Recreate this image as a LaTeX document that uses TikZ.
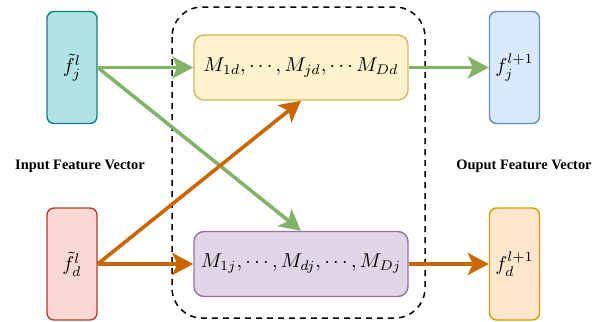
\documentclass[tikz,border=0pt]{standalone}
\usepackage{fontspec}
\newfontfamily\labelfont{Liberation Serif}
\usetikzlibrary{arrows.meta}

\definecolor{tealFill}{HTML}{B0E3E6}
\definecolor{tealLine}{HTML}{0E8088}
\definecolor{redFill}{HTML}{FAD9D5}
\definecolor{redLine}{HTML}{AE4132}
\definecolor{blueFill}{HTML}{DAE8FC}
\definecolor{blueLine}{HTML}{6C8EBF}
\definecolor{orangeFill}{HTML}{FFE6CC}
\definecolor{orangeLine}{HTML}{D79B00}
\definecolor{yellowFill}{HTML}{FFF2CC}
\definecolor{yellowLine}{HTML}{D6B656}
\definecolor{purpleFill}{HTML}{E1D5E7}
\definecolor{purpleLine}{HTML}{9673A6}
\definecolor{greenFlow}{HTML}{82B366}
\definecolor{orangeFlow}{HTML}{CC6600}

\begin{document}
\begin{tikzpicture}[
    x=0.5pt, y=-0.5pt,
    vecbox/.style={draw, line width=0.7pt, rounded corners=3.5pt,
        minimum width=25pt, minimum height=56pt, inner sep=0pt},
    mixbox/.style={draw, line width=0.7pt, rounded corners=5pt,
        minimum width=107pt, minimum height=32.5pt, inner sep=0pt},
    flow/.style={line width=1.8pt,
        -{Stealth[length=10.5pt, width=11pt, inset=2.5pt]}},
    sidelabel/.style={font=\labelfont\bfseries\fontsize{7.2}{8}\selectfont}
]

% Geometry (pixels of the reference)
\def\topRow{67.5}
\def\botRow{264}
\def\inCol{72}
\def\outCol{514.5}
\def\midCol{301}

\useasboundingbox (0,0) rectangle (597,321);

% Layer block
\draw[line width=0.75pt, dash pattern=on 3pt off 2.5pt, rounded corners=15pt]
    (172,7) rectangle (425,318);

% Input vectors
\node[vecbox, fill=tealFill, draw=tealLine] (fjin) at (\inCol,\topRow) {$\tilde{f}_j^{l}$};
\node[vecbox, fill=redFill, draw=redLine] (fdin) at (\inCol,\botRow) {$\tilde{f}_d^{l}$};

% Mixing blocks
\node[mixbox, fill=yellowFill, draw=yellowLine] (mixd) at (\midCol,\topRow)
    {$M_{1d},\cdots,M_{jd},\cdots M_{Dd}$};
\node[mixbox, fill=purpleFill, draw=purpleLine] (mixj) at (\midCol,\botRow)
    {$M_{1j},\cdots,M_{dj},\cdots,M_{Dj}$};

% Output vectors
\node[vecbox, fill=blueFill, draw=blueLine] (fjout) at (\outCol,\topRow) {$f_j^{l+1}$};
\node[vecbox, fill=orangeFill, draw=orangeLine] (fdout) at (\outCol,\botRow) {$f_d^{l+1}$};

% Side labels
\node[sidelabel] (inlabel) at (80,166) {Input Feature Vector};
\node[sidelabel] (outlabel) at (524,166) {Ouput Feature Vector};

% Flows
\draw[flow, greenFlow] (fjin.east) -- (mixd.west);
\draw[flow, greenFlow] (fjin.east) -- (mixj.north);
\draw[flow, orangeFlow] (fdin.east) -- (mixj.west);
\draw[flow, orangeFlow] (fdin.east) -- (mixd.south);
\draw[flow, greenFlow] (mixd.east) -- (fjout.west);
\draw[flow, orangeFlow] (mixj.east) -- (fdout.west);

\end{tikzpicture}
\end{document}
